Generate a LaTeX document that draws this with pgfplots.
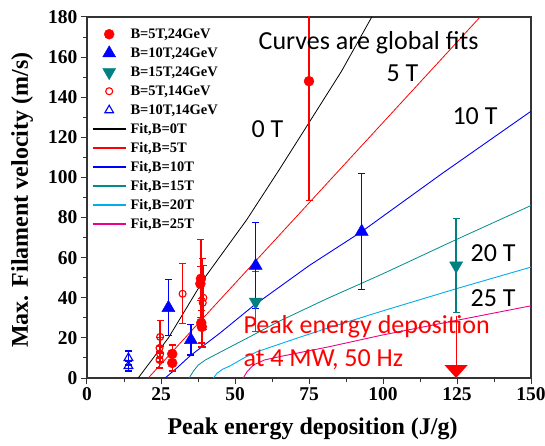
\documentclass[border=0pt]{standalone}
\usepackage{fontspec}
\setmainfont{Liberation Serif}
\newfontfamily\calibri{Carlito}
\usepackage{pgfplots}
\pgfplotsset{compat=1.18}
\usetikzlibrary{arrows.meta}

\definecolor{tealmark}{RGB}{0,128,128}
\definecolor{tealfit}{RGB}{0,140,140}
\definecolor{pureblue}{RGB}{0,0,255}
\definecolor{purered}{RGB}{255,0,0}

\pgfplotstableread{
x     y     e
75    148   59.5
38.5  49.5  19.5
38.3  47    8.5
38.6  27.5  12
38.8  25.5  8
28.8  12    4.5
28.8  7.5   4
}\redfilled

\pgfplotstableread{
x     y     e
32.3  42    15
39.3  40    16
39.1  37.5  22
24.7  20.5  8
24.5  15    5
24.7  12    4
24.5  9     4
}\redopen

\pgfplotstableread{
x     y     e
27.5  35    14
35.1  19    7.5
57    56    21.5
92.8  73    29
}\bluefilled

\pgfplotstableread{
x      y     e
57     38    15
124.7  56    23.5
}\tealfilled

\pgfplotstableread{
x     y     e
14    10    3.5
14    6     2.5
}\blueopen

% error bars drawn in the colour of their series
\pgfplotsset{
  errbars/.style={
    error bars/.cd, y dir=both, y explicit,
    error bar style={line width=1.4pt, draw=#1},
    error mark options={draw=#1, line width=1.2pt, mark size=3.5pt, rotate=90}},
}

\begin{document}
\begin{tikzpicture}
\begin{axis}[
  scale only axis, width=444pt, height=361pt,
  xmin=0, xmax=150, ymin=0, ymax=180,
  xtick={0,25,...,150}, ytick={0,20,...,180},
  minor x tick num=1, minor y tick num=1,
  tick align=outside, tick pos=left,
  major tick length=6pt, minor tick length=4pt,
  axis line style={line width=1.1pt, black!80},
  every tick/.style={line width=1pt, black!80},
  ticklabel style={font=\bfseries\fontsize{19.5}{20}\selectfont},
  /pgf/number format/assume math mode=true,
  xlabel={Peak energy deposition (J/g)},
  ylabel={Max. Filament velocity (m/s)},
  label style={font=\bfseries\fontsize{24}{26}\selectfont},
  xlabel style={at={(axis description cs:0.508,-0.141)}, anchor=center},
  ylabel style={at={(axis description cs:-0.146,0.493)}, anchor=center},
  legend image code/.code={\draw[mark repeat=2,mark phase=2,#1] plot coordinates {(0pt,0pt) (16.5pt,0pt) (33pt,0pt)};},
  legend cell align=left,
  legend style={draw=none, fill=none, inner sep=0pt,
    font=\bfseries\fontsize{14.5}{15}\selectfont,
    at={(axis description cs:0.0106,0.975)}, anchor=north west,
    row sep=3pt, column sep=3pt,
    nodes={inner sep=1pt, text height=11pt, text depth=3pt}},
]
% legend entries
\addlegendimage{only marks, purered, mark=*, mark size=5pt}
\addlegendentry{B=5T,24GeV}
\addlegendimage{only marks, pureblue, mark=triangle*, mark size=7.5pt}
\addlegendentry{B=10T,24GeV}
\addlegendimage{only marks, tealmark, mark=triangle*, mark size=7.5pt, mark options={rotate=180}}
\addlegendentry{B=15T,24GeV}
\addlegendimage{only marks, purered, mark=o, mark size=3.5pt, mark options={line width=1.1pt}}
\addlegendentry{B=5T,14GeV}
\addlegendimage{only marks, pureblue, mark=triangle, mark size=5pt, mark options={line width=1.1pt}}
\addlegendentry{B=10T,14GeV}
\addlegendimage{black, line width=1.6pt, no marks}
\addlegendentry{Fit,B=0T}
\addlegendimage{purered, line width=1.6pt, no marks}
\addlegendentry{Fit,B=5T}
\addlegendimage{pureblue, line width=1.6pt, no marks}
\addlegendentry{Fit,B=10T}
\addlegendimage{tealfit, line width=1.6pt, no marks}
\addlegendentry{Fit,B=15T}
\addlegendimage{cyan, line width=1.6pt, no marks}
\addlegendentry{Fit,B=20T}
\addlegendimage{magenta, line width=1.6pt, no marks}
\addlegendentry{Fit,B=25T}

% global fit curves
\addplot[black, line width=0.8pt, no marks, forget plot] coordinates {
  (17.3,0) (27.5,20) (40,50.5) (54,79) (65,104) (75.3,128) (86,153) (96.2,180)};
\addplot[purered, line width=0.8pt, no marks, forget plot] coordinates {
  (20.7,0) (39.3,30) (82,98.5) (132.8,180)};
\addplot[pureblue, line width=0.9pt, no marks, forget plot] coordinates {
  (26.4,0) (30,4.5) (34.8,11) (45,22.5) (56.2,36) (75,56) (92.8,73) (120,102) (150,133)};
\addplot[tealfit, line width=0.8pt, no marks, forget plot] coordinates {
  (34.5,0) (36,3.5) (37.6,6.5) (40,9) (44.9,12.8) (54,19.8) (65.2,28.5) (81,39.5) (100,52) (124.7,69) (150,86)};
\addplot[cyan, line width=0.9pt, no marks, forget plot] coordinates {
  (42.7,0) (44,2.5) (46,4.5) (48.3,6) (53,10) (57.3,13) (70.8,19.8) (81.5,25) (100,33.5) (124.7,44.5) (150,55.3)};
\addplot[magenta, line width=0.9pt, no marks, forget plot] coordinates {
  (52.8,0) (54,3) (56.2,6.5) (60,9) (65.2,10.7) (81.5,15.5) (100,21.5) (124.7,28.7) (150,36)};

% measured velocities with error bars
\addplot[purered, only marks, mark=o, mark size=3.5pt, mark options={line width=1.1pt},
  forget plot, errbars=purered]
  table[x=x, y=y, y error=e] {\redopen};
\addplot[pureblue, only marks, mark=triangle, mark size=5pt, mark options={line width=1.1pt},
  forget plot, errbars=pureblue]
  table[x=x, y=y, y error=e] {\blueopen};
\addplot[purered, only marks, mark=*, mark size=5pt, forget plot, errbars=purered]
  table[x=x, y=y, y error=e] {\redfilled};
\addplot[tealmark, only marks, mark=triangle*, mark size=7.5pt, mark options={rotate=180},
  forget plot, errbars=tealmark]
  table[x=x, y=y, y error=e] {\tealfilled};
\addplot[pureblue, only marks, mark=triangle*, mark size=7.5pt, forget plot, errbars=pureblue]
  table[x=x, y=y, y error=e] {\bluefilled};

% peak deposition at 4 MW, 50 Hz
\addplot[purered, line width=1.2pt, forget plot, -{Triangle[width=23pt,length=13pt]}]
  coordinates {(124.7,31) (124.7,0)};

\node[anchor=base west, font=\calibri\fontsize{26}{28}\selectfont] at (axis cs:56.8,164) {Curves are global fits};
\node[anchor=base west, font=\calibri\fontsize{26}{28}\selectfont] at (axis cs:54.4,119.8) {0 T};
\node[anchor=base west, font=\calibri\fontsize{26}{28}\selectfont] at (axis cs:100,147.8) {5 T};
\node[anchor=base west, font=\calibri\fontsize{26}{28}\selectfont] at (axis cs:122.3,126.2) {10 T};
\node[anchor=base west, font=\calibri\fontsize{26}{28}\selectfont] at (axis cs:128.4,58.2) {20 T};
\node[anchor=base west, font=\calibri\fontsize{26}{28}\selectfont] at (axis cs:128.4,35.7) {25 T};
\node[anchor=base west, text=purered, font=\calibri\fontsize{26}{28}\selectfont] at (axis cs:51.7,22) {Peak energy deposition};
\node[anchor=base west, text=purered, font=\calibri\fontsize{26}{28}\selectfont] at (axis cs:51.7,5.7) {at 4 MW, 50 Hz};
\end{axis}
\pgfresetboundingbox
\path[use as bounding box] (-87pt,-67pt) rectangle (458pt,378pt);
\end{tikzpicture}
\end{document}
